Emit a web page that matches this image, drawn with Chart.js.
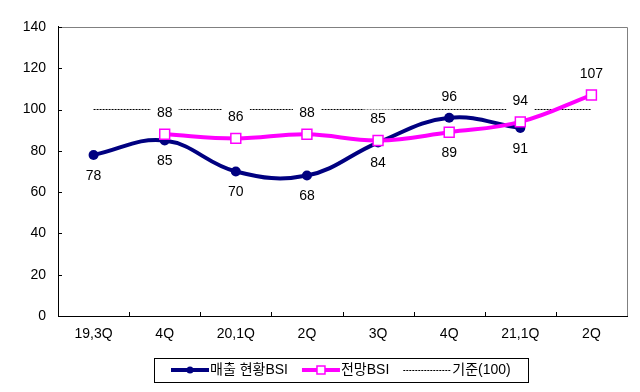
<!DOCTYPE html>
<html><head><meta charset="utf-8">
<script src="https://cdn.jsdelivr.net/npm/chart.js@4.4.0/dist/chart.umd.min.js"></script>
<style>html,body{margin:0;padding:0;background:#fff}#wrap{width:640px;height:392px;position:relative}</style>
</head><body><div id="wrap"><canvas id="c" width="640" height="392"></canvas></div>
<script>
const categories = ['19,3Q','4Q','20,1Q','2Q','3Q','4Q','21,1Q','2Q'];
const salesBSI = [78, 85, 70, 68, 84, 96, 91, null];
const outlookBSI = [null, 88, 86, 88, 85, 89, 94, 107];
const baseline = [100, 100, 100, 100, 100, 100, 100, 100];
const seriesNames = ['매출 현황BSI', '전망BSI', '기준(100)'];
const yTicks = [0, 20, 40, 60, 80, 100, 120, 140];

const FONT = "'Liberation Sans', 'Noto Sans CJK KR', Arial, sans-serif";
const NAVY = '#000080', MAG = '#FF00FF';

function labelPlacements(chart) {
  const out = [];
  [0, 1].forEach(di => {
    const meta = chart.getDatasetMeta(di);
    const own = di === 0 ? salesBSI : outlookBSI;
    const other = di === 0 ? outlookBSI : salesBSI;
    meta.data.forEach((pt, i) => {
      const v = own[i];
      if (v === null) return;
      const o = other[i];
      let above;
      if (o === null) above = di === 1;
      else above = di === 0 ? v > o : v >= o;
      out.push({x: pt.x, y: pt.y + (above ? -21 : 21), text: String(v)});
    });
  });
  return out;
}

const customPlugin = {
  id: 'custom',
  afterDatasetDraw(chart, args) {
    if (args.index !== 2) return;
    const ctx = chart.ctx;
    ctx.save();
    ctx.fillStyle = '#fff';
    labelPlacements(chart).forEach(l => ctx.fillRect(l.x - 14, l.y - 10, 28, 20));
    ctx.restore();
  },
  afterDatasetsDraw(chart) {
    const ctx = chart.ctx;
    ctx.save();
    ctx.font = '14px ' + FONT;
    ctx.fillStyle = '#000';
    ctx.textAlign = 'center';
    ctx.textBaseline = 'middle';
    labelPlacements(chart).forEach(l => ctx.fillText(l.text, l.x, l.y));
    ctx.restore();
  },
  afterDraw(chart) {
    const ctx = chart.ctx;
    const a = chart.chartArea;
    const xs = chart.scales.x, ys = chart.scales.y;
    ctx.save();
    // gray top & right border
    ctx.strokeStyle = '#808080';
    ctx.lineWidth = 1;
    ctx.beginPath();
    ctx.moveTo(Math.round(a.left) + 0.5, Math.round(a.top) + 0.5);
    ctx.lineTo(Math.round(a.right) + 0.5, Math.round(a.top) + 0.5);
    ctx.lineTo(Math.round(a.right) + 0.5, Math.round(a.bottom));
    ctx.stroke();
    // inward ticks
    ctx.strokeStyle = '#000';
    ctx.beginPath();
    yTicks.forEach(v => {
      const y = Math.round(ys.getPixelForValue(v)) + 0.5;
      ctx.moveTo(Math.round(a.left), y);
      ctx.lineTo(Math.round(a.left) + 4, y);
    });
    for (let i = 1; i < categories.length; i++) {
      const x = Math.round(xs.getPixelForValue(i - 0.5)) + 0.5;
      ctx.moveTo(x, Math.round(a.bottom));
      ctx.lineTo(x, Math.round(a.bottom) - 4);
    }
    ctx.stroke();
    // legend
    ctx.font = '14px ' + FONT;
    ctx.textBaseline = 'middle';
    ctx.textAlign = 'left';
    const cy = 370;
    const w0 = ctx.measureText(seriesNames[0]).width;
    const w1 = ctx.measureText(seriesNames[1]).width;
    const w2 = ctx.measureText(seriesNames[2]).width;
    const sw = 38, gapAfter = 1, itemGap = 14, sw2 = 48;
    const total = sw + gapAfter + w0 + itemGap + sw + gapAfter + w1 + itemGap + sw2 + gapAfter + w2;
    const boxW = total + 34;
    const cx = (a.left + a.right) / 2 - 2;
    const bx = Math.round(cx - boxW / 2);
    ctx.strokeStyle = '#000';
    ctx.lineWidth = 1;
    ctx.strokeRect(bx + 0.5, 358.5, Math.round(boxW), 24);
    let x = bx + 17;
    // item 1
    ctx.strokeStyle = NAVY; ctx.lineWidth = 4;
    ctx.beginPath(); ctx.moveTo(x, cy); ctx.lineTo(x + sw, cy); ctx.stroke();
    ctx.fillStyle = NAVY;
    ctx.beginPath(); ctx.arc(x + sw / 2, cy, 3.5, 0, Math.PI * 2); ctx.fill();
    x += sw + gapAfter;
    ctx.fillStyle = '#000'; ctx.fillText(seriesNames[0], x, cy);
    x += w0 + itemGap;
    // item 2
    ctx.strokeStyle = MAG; ctx.lineWidth = 4;
    ctx.beginPath(); ctx.moveTo(x, cy); ctx.lineTo(x + sw, cy); ctx.stroke();
    ctx.fillStyle = '#fff'; ctx.lineWidth = 1.5;
    ctx.fillRect(x + sw / 2 - 4, cy - 4, 8, 8);
    ctx.strokeRect(x + sw / 2 - 4, cy - 4, 8, 8);
    x += sw + gapAfter;
    ctx.fillStyle = '#000'; ctx.fillText(seriesNames[1], x, cy);
    x += w1 + itemGap;
    // item 3
    ctx.strokeStyle = '#000'; ctx.lineWidth = 1; ctx.setLineDash([2, 1]);
    ctx.beginPath(); ctx.moveTo(x, cy + 0.5); ctx.lineTo(x + sw2, cy + 0.5); ctx.stroke();
    ctx.setLineDash([]);
    x += sw2 + gapAfter;
    ctx.fillStyle = '#000'; ctx.fillText(seriesNames[2], x, cy);
    ctx.restore();
  }
};

new Chart(document.getElementById('c'), {
  type: 'line',
  data: {
    labels: categories,
    datasets: [
      {
        label: seriesNames[0], data: salesBSI, order: 1,
        borderColor: NAVY, backgroundColor: NAVY, borderWidth: 4,
        pointRadius: 5, pointHoverRadius: 5, pointBackgroundColor: NAVY, pointBorderColor: NAVY, pointBorderWidth: 0,
        tension: 0.4, fill: false
      },
      {
        label: seriesNames[1], data: outlookBSI, order: 0,
        borderColor: MAG, backgroundColor: '#fff', borderWidth: 4,
        pointStyle: 'rect', pointRadius: 7, pointHoverRadius: 7,
        pointBackgroundColor: '#fff', pointBorderColor: MAG, pointBorderWidth: 1.5,
        tension: 0.4, fill: false
      },
      {
        label: seriesNames[2], data: baseline, order: 2,
        borderColor: '#000', borderWidth: 1, borderDash: [2, 1],
        pointRadius: 0, tension: 0, fill: false
      }
    ]
  },
  options: {
    responsive: false,
    animation: false,
    devicePixelRatio: 1,
    layout: { padding: { left: 0, right: 13, top: 26.9, bottom: 0 } },
    plugins: { legend: { display: false }, tooltip: { enabled: false } },
    scales: {
      x: {
        offset: true,
        grid: { display: false, drawTicks: false, offset: true },
        border: { display: true, color: '#000', width: 1 },
        ticks: { color: '#000', font: { family: FONT, size: 14 }, padding: 10, maxRotation: 0, autoSkip: false },
        afterFit(s) { s.height = 76; }
      },
      y: {
        min: 0, max: 140,
        grid: { display: false, drawTicks: false },
        border: { display: true, color: '#000', width: 1 },
        ticks: { stepSize: 20, color: '#000', font: { family: FONT, size: 14 }, padding: 12 },
        afterFit(s) { s.width = 58; }
      }
    }
  },
  plugins: [customPlugin]
});
</script>
</body></html>
